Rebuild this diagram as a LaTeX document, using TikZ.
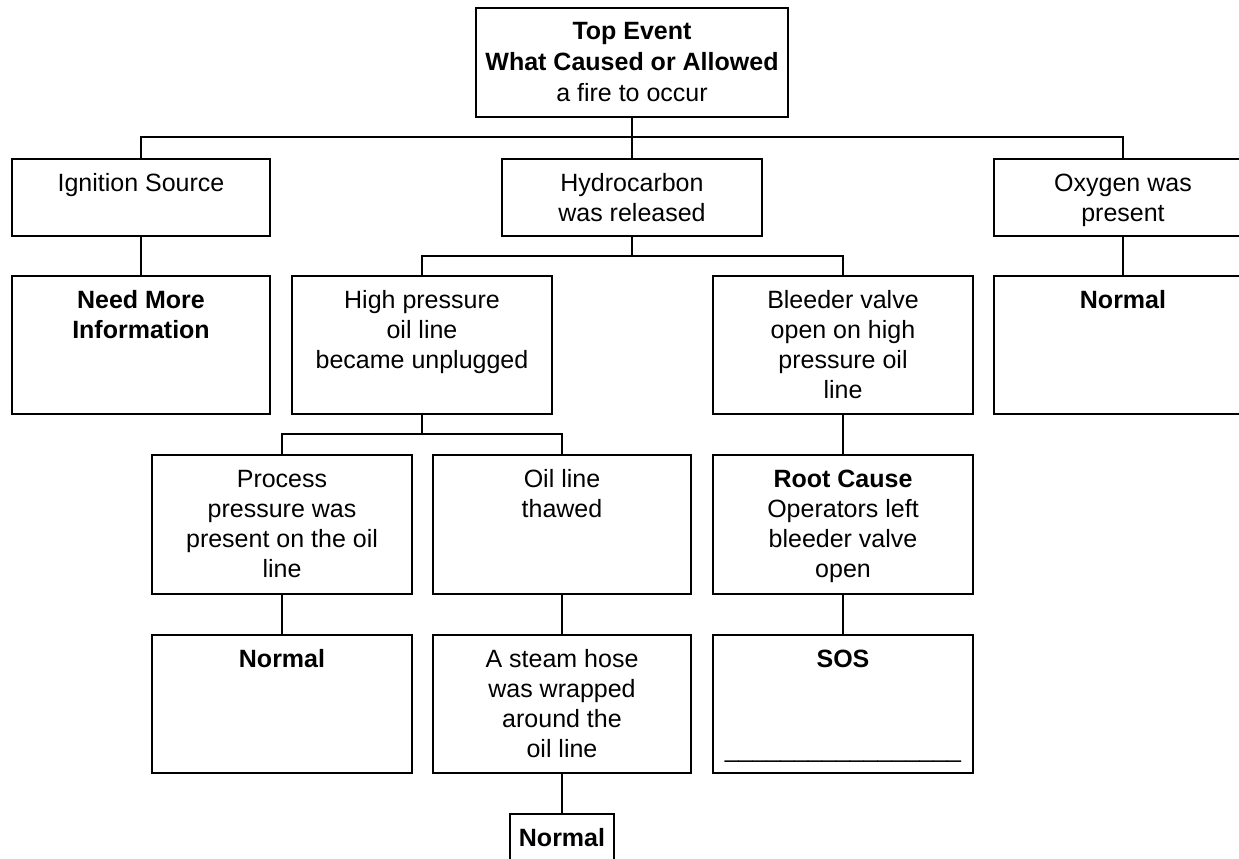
\documentclass[tikz,border=0pt]{standalone}
\usepackage{fontspec}
\setmainfont{Liberation Sans}
\newcommand\fbx[4][30pt]{\parbox[t][#3][t]{#2}{\fontsize{25}{#1}\selectfont\centering\rule{0pt}{32pt}#4}}
\begin{document}
\begin{tikzpicture}[x=1pt,y=-1pt,
  box/.style={draw, line width=1.7pt, inner sep=0pt, outer sep=0pt, anchor=north west},
  conn/.style={line width=1.4pt}]
\fill[white] (0,0) rectangle (1239,859);
\path[use as bounding box, clip] (0,0) rectangle (1239,859);
\node[box] (top) at (476,8) {\fbx[31pt]{312pt}{109pt}{\textbf{Top Event}\\\textbf{What Caused or Allowed}\\a fire to occur}};
\node[box] (ign) at (12,159) {\fbx{258pt}{77pt}{Ignition Source}};
\node[box] (hyd) at (502,159) {\fbx{260pt}{77pt}{Hydrocarbon\\was released}};
\node[box] (oxy) at (994,159) {\fbx{258pt}{77pt}{Oxygen was\\present}};
\node[box] (need) at (12,276) {\fbx{258pt}{138pt}{\textbf{Need More}\\\textbf{Information}}};
\node[box] (hp) at (292,276) {\fbx{260pt}{138pt}{High pressure\\oil line\\became unplugged}};
\node[box] (bv) at (713,276) {\fbx{260pt}{138pt}{Bleeder valve\\open on high\\pressure oil\\line}};
\node[box] (no) at (994,276) {\fbx{258pt}{138pt}{\textbf{Normal}}};
\node[box] (pp) at (152,455) {\fbx{260pt}{139pt}{Process\\pressure was\\present on the oil\\line}};
\node[box] (ot) at (433,455) {\fbx{258pt}{139pt}{Oil line\\thawed}};
\node[box] (rc) at (713,455) {\fbx{260pt}{139pt}{\textbf{Root Cause}\\Operators left\\bleeder valve\\open}};
\node[box] (n1) at (152,635) {\fbx{260pt}{138pt}{\textbf{Normal}}};
\node[box] (sh) at (433,635) {\fbx{258pt}{138pt}{A steam hose\\was wrapped\\around the\\oil line}};
\node[box] (sos) at (713,635) {\fbx{260pt}{138pt}{\textbf{SOS}\\[60pt]\_\_\_\_\_\_\_\_\_\_\_\_\_\_\_\_\_}};
\node[box] (n2) at (510,814) {\fbx{104pt}{60pt}{\textbf{Normal}}};
\coordinate (b1) at (632,137);
\coordinate (b2) at (632,256);
\coordinate (b3) at (422,434);
\draw[conn] (top.south) -- (hyd.north);
\draw[conn] (ign.north) |- (b1) -| (oxy.north);
\draw[conn] (hyd.south) -- (b2);
\draw[conn] (hp.north) |- (b2) -| (bv.north);
\draw[conn] (ign.south) -- (need.north);
\draw[conn] (oxy.south) -- (no.north);
\draw[conn] (hp.south) -- (b3);
\draw[conn] (pp.north) |- (b3) -| (ot.north);
\draw[conn] (bv.south) -- (rc.north);
\draw[conn] (pp.south) -- (n1.north);
\draw[conn] (ot.south) -- (sh.north);
\draw[conn] (rc.south) -- (sos.north);
\draw[conn] (sh.south) -- (n2.north);
\end{tikzpicture}
\end{document}
